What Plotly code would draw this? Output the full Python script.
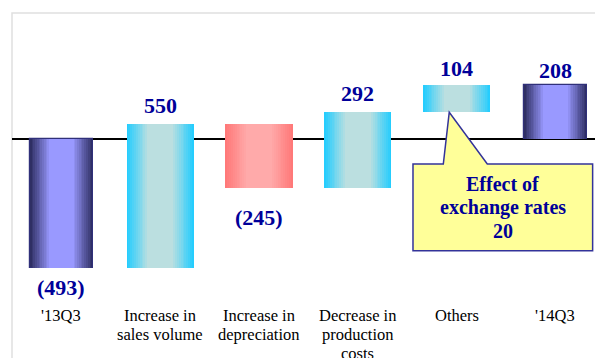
import plotly.graph_objects as go

# Bridge from '13Q3 to '14Q3 result
categories = ["'13Q3", "Increase in<br>sales volume", "Increase in<br>depreciation",
              "Decrease in<br>production<br>costs", "Others", "'14Q3"]
changes = [-493, 550, -245, 292, 104, 208]
kinds = ["total", "up", "down", "up", "up", "total"]
fx_note_lines = ["Effect of", "exchange rates", "20"]

SERIF = "Liberation Serif"

# bar bases / heights from running total
bases, heights = [], []
running = 0
for v, k in zip(changes, kinds):
    if k == "total":
        bases.append(0)
        heights.append(v)
        running = v
    else:
        bases.append(running)
        heights.append(v)
        running += v

xpos = list(range(len(categories)))

# edge -> centre colours for the cylinder-like shading
palette = {
    "total": ((0x2a, 0x2a, 0x5c), (0x99, 0x99, 0xff)),
    "up": ((0x1e, 0xcc, 0xff), (0xbb, 0xdf, 0xe0)),
    "down": ((0xff, 0x77, 0x77), (0xff, 0xaa, 0xaa)),
}
full_width = {"total": 0.64, "up": 0.68, "down": 0.68}


def mix(c0, c1, t):
    return "rgb(%d,%d,%d)" % tuple(round(a + (b - a) * t) for a, b in zip(c0, c1))


fig = go.Figure()
K = 18
for i in range(K):
    frac = 1 - i / K
    d = (i + 0.5) / (2 * K)
    t = min(1.0, d / 0.32)
    colors = [mix(*palette[k], t) for k in kinds]
    widths = [full_width[k] * frac for k in kinds]
    line_w = [1.2 if (i == 0 and k == "total") else 0 for k in kinds]
    fig.add_trace(go.Bar(
        x=xpos, y=heights, base=bases, width=widths,
        marker=dict(color=colors, line=dict(color="#30307a", width=line_w)),
        hoverinfo="skip", showlegend=False,
    ))

# value labels
label_gap = [20, 19, 29, 19, 17, 15]
for xi, b, h, g in zip(xpos, bases, heights, label_gap):
    end = b + h
    txt = "(%d)" % abs(h) if h < 0 else "%d" % h
    fig.add_annotation(
        x=xi, y=end, text="<b>%s</b>" % txt, showarrow=False,
        yshift=g if h > 0 else -g, yanchor="middle",
        font=dict(family=SERIF, size=22, color="#000099"),
    )

# category labels under the plot, one annotation per line for tight leading
for xi, cat in zip(xpos, categories):
    for j, line in enumerate(cat.split("<br>")):
        fig.add_annotation(
            x=xi, xref="x", y=0, yref="paper", text=line, showarrow=False,
            yanchor="middle", yshift=-15.7 - 18.7 * j,
            font=dict(family=SERIF, size=16.5, color="black"),
        )

# callout for exchange-rate effect, pointing to the base of "Others"
oth = 4
tip_y = bases[oth]
bx0, bx1, by0, by1 = 3.558, 5.376, -427.5, -94.8
wl, wr, tx = 3.865, 4.31, 3.925
path = (f"M {bx0},{by1} L {wl},{by1} L {tx},{tip_y} L {wr},{by1} L {bx1},{by1} "
        f"L {bx1},{by0} L {bx0},{by0} Z")
fig.add_shape(type="path", path=path, xref="x", yref="y",
              fillcolor="#ffff99", line=dict(color="#333399", width=1.5), layer="above")
for j, line in enumerate(fx_note_lines):
    fig.add_annotation(
        x=(bx0 + bx1) / 2, y=(by0 + by1) / 2, showarrow=False, yanchor="middle",
        yshift=23.5 * (1 - j), text="<b>%s</b>" % line,
        font=dict(family=SERIF, size=20, color="#000099"),
    )

# light frame around the plotting area
fig.add_shape(type="rect", xref="paper", yref="paper", x0=0, x1=1.05, y0=-0.3, y1=1,
              line=dict(color="#e0e0e0", width=1.5), layer="below")

ymin, ymax = -616.7, 484.7
fig.update_layout(
    width=595, height=358,
    margin=dict(l=12, r=0, t=13, b=58),
    paper_bgcolor="white", plot_bgcolor="white",
    barmode="overlay", bargap=0,
    xaxis=dict(range=[-0.5, 5.4], showticklabels=False,
               showgrid=False, zeroline=False, showline=False, ticks=""),
    xaxis2=dict(range=[-0.5, 5.4], overlaying="x", anchor="free",
                position=(0 - ymin) / (ymax - ymin), side="top",
                tickmode="array", tickvals=[i + 0.5 for i in xpos[:-1]],
                ticks="outside", ticklen=4, tickcolor="#999999", tickwidth=1,
                showticklabels=False, showgrid=False, zeroline=False, showline=False),
    yaxis=dict(range=[ymin, ymax], showgrid=False, showticklabels=False, ticks="",
               zeroline=True, zerolinecolor="black", zerolinewidth=1.5, showline=False),
)

fig.write_html("out.html")
